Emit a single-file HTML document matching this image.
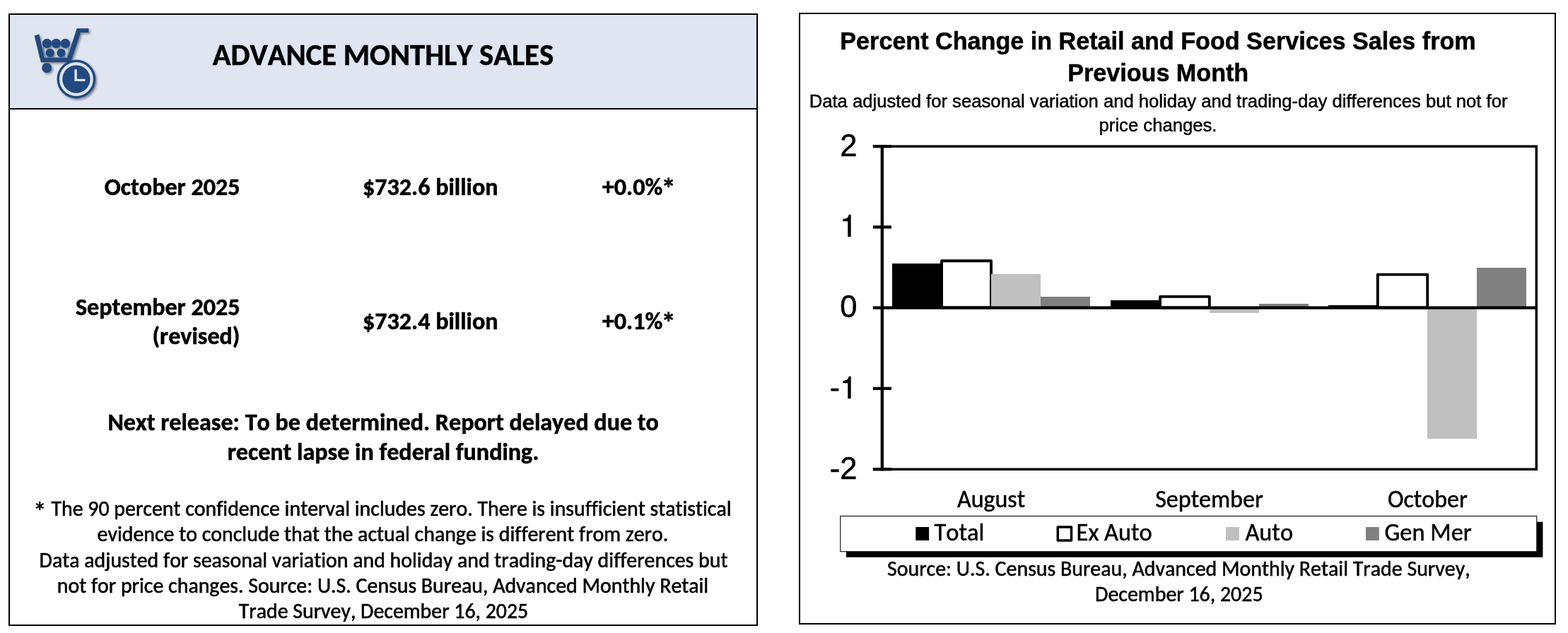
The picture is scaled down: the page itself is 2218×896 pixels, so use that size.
<!DOCTYPE html>
<html lang="en">
<head>
<meta charset="utf-8">
<title>Advance Monthly Sales</title>
<style>
html,body{margin:0;padding:0;background:#fff;}
body{position:relative;width:2218px;height:896px;overflow:hidden;color:#000;
  font-family:"Carlito","Calibri","Liberation Sans",sans-serif;font-kerning:none;font-variant-ligatures:none;}
.panel{position:absolute;box-sizing:border-box;border:2px solid #000;background:#fff;}
#sales{left:12px;top:19px;width:1059.5px;height:867px;}
#sales .head{position:absolute;left:0;top:0;right:0;height:131.5px;background:#dfe5f1;border-bottom:2px solid #000;}
#chart{left:1130px;top:17.5px;width:1071px;height:866px;}
.t{position:absolute;white-space:nowrap;line-height:1;margin:0;transform-origin:50% 84%;-webkit-text-stroke:0.55px #000;}
.ast{display:inline-block;line-height:0;position:relative;}
.b .ast{font-size:1.2em;top:0.12em;margin-left:-0.045em;}
.f30 .ast{font-size:1.28em;top:0.21em;margin-left:-0.07em;}
.c{transform:translateX(-50%);}
.l{transform-origin:0 84%;}
.r{transform:translateX(-100%);transform-origin:100% 84%;}
.b{font-weight:bold;}
.h1{font-size:42.7px;}
.f34{font-size:34.1px;}
.f30{font-size:29.85px;}
svg{position:absolute;left:0;top:0;overflow:visible;}
svg text{font-family:"Carlito","Calibri","Liberation Sans",sans-serif;fill:#000;stroke:#000;stroke-width:0.5px;font-kerning:none;font-variant-ligatures:none;}
svg text.a{font-family:"Liberation Sans","Arial",sans-serif;}
svg text.h{font-family:"TeX Gyre Heros","Liberation Sans","Arial",sans-serif;}
</style>
</head>
<body>

<!-- ================= LEFT PANEL ================= -->
<div class="panel" id="sales">
  <div class="head"></div>
</div>

<!-- icon: shopping cart with clock (page coordinates) -->
<svg width="2218" height="896" viewBox="0 0 2218 896" style="pointer-events:none">
  <defs>
    <filter id="bl"><feGaussianBlur stdDeviation="0.4"/></filter>
    <filter id="sh" x="-20%" y="-20%" width="150%" height="150%">
      <feGaussianBlur in="SourceGraphic" stdDeviation="0.45" result="b"/><feDropShadow in="b" dx="2" dy="2.2" stdDeviation="1.7" flood-color="#000" flood-opacity="0.4"/>
    </filter>
  </defs>
  <g filter="url(#sh)" fill="#24487f" stroke="none">
    <!-- cart frame -->
    <path d="M108.6 40.2 H125.4 V45.9 H114.2 L100.3 88 H57.8 L48.6 50.6 L55.4 48.6 L63 82 H95.2 Z"/>
    <!-- inner basket -->
    <path d="M60.9 66.5 L64.4 81.2 H94.9 L98.1 67.6" fill="none" stroke="#24487f" stroke-width="1.1" stroke-opacity="0.7"/>
    <!-- wheel -->
    <circle cx="66.2" cy="96" r="7"/>
    <!-- goods -->
    <circle cx="66.4" cy="61.4" r="6.7"/>
    <circle cx="79.4" cy="61.4" r="6.7"/>
    <circle cx="92.4" cy="61.4" r="6.7"/>
    <circle cx="70.7" cy="74.9" r="6.1"/>
    <circle cx="86.4" cy="74.9" r="6.1"/>
    <!-- clock -->
    <circle cx="107.9" cy="112" r="25.6" fill="#dfe5f1"/>
    <circle cx="107.9" cy="112" r="25.65" fill="none" stroke="#24487f" stroke-width="3.5"/>
    <circle cx="107.9" cy="112" r="19.7"/>
  </g>
  <path d="M107.1 98.2 V113.4 H120.6" fill="none" stroke="#dfe5f1" stroke-width="3.5" filter="url(#bl)"/>
</svg>

<div class="t c b h1" style="left:541.9px;top:56px;--w:482.4">ADVANCE MONTHLY SALES</div>

<div class="t r b f34" style="left:339.5px;top:248px;--w:191.8">October 2025</div>
<div class="t l b f34" style="left:513px;top:248px;--w:191.55">$732.6 billion</div>
<div class="t l b f34" style="left:851.8px;top:248px;--w:105.85">+0.0%<span class="ast">*</span></div>

<div class="t r b f34" style="left:339.5px;top:418px;--w:232.6">September 2025</div>
<div class="t r b f34" style="left:339.5px;top:458.8px;--w:124.05">(revised)</div>
<div class="t l b f34" style="left:513px;top:438px;--w:191.55">$732.4 billion</div>
<div class="t l b f34" style="left:851.8px;top:438px;--w:105.85">+0.1%<span class="ast">*</span></div>

<div class="t c b f34" style="left:542.2px;top:581px;--w:779.5">Next release: To be determined. Report delayed due to</div>
<div class="t c b f34" style="left:542px;top:622.8px;--w:440.75">recent lapse in federal funding.</div>

<div class="t c f30" style="left:542px;top:706px;--w:985.1"><span class="ast">*</span> The 90 percent confidence interval includes zero. There is insufficient statistical</div>
<div class="t c f30" style="left:541.4px;top:742.3px;--w:807.6">evidence to conclude that the actual change is different from zero.</div>
<div class="t c f30" style="left:542.5px;top:778.6px;--w:973.8">Data adjusted for seasonal variation and holiday and trading-day differences but</div>
<div class="t c f30" style="left:541.5px;top:814.9px;--w:921.45">not for price changes. Source: U.S. Census Bureau, Advanced Monthly Retail</div>
<div class="t c f30" style="left:542.5px;top:851.2px;--w:409.5">Trade Survey, December 16, 2025</div>

<!-- ================= RIGHT PANEL ================= -->
<div class="panel" id="chart"></div>

<svg width="2218" height="896" viewBox="0 0 2218 896">
  <!-- titles -->
  <text class="a" x="1638" y="69.5" font-size="34.15" font-weight="bold" text-anchor="middle">Percent Change in Retail and Food Services Sales from</text>
  <text class="a" x="1638.2" y="114.5" font-size="34.15" font-weight="bold" text-anchor="middle">Previous Month</text>
  <text class="a" x="1638.6" y="151.8" font-size="25.65" text-anchor="middle">Data adjusted for seasonal variation and holiday and trading-day differences but not for</text>
  <text class="a" x="1638" y="185.8" font-size="25.65" text-anchor="middle">price changes.</text>

  <!-- bars (series order: Total, Ex Auto, Auto, Gen Mer) -->
  <g shape-rendering="crispEdges" fill="#000">
    <rect x="1262" y="372.5" width="70" height="63"/>
    <rect x="1570.5" y="424.5" width="70" height="11"/>
    <rect x="1879" y="432" width="70" height="3.5"/>
  </g>
  <g fill="#fff" stroke="#000" stroke-width="3.9" stroke-linejoin="round">
    <rect x="1332" y="369.3" width="70" height="66.2"/>
    <rect x="1641" y="419.9" width="69.8" height="15.6"/>
    <rect x="1948.8" y="388.6" width="70.4" height="46.9"/>
  </g>
  <g shape-rendering="crispEdges" fill="#c0c0c0">
    <rect x="1402" y="388" width="70" height="47.5"/>
    <rect x="1711" y="435.5" width="70" height="7"/>
    <rect x="2019" y="435.5" width="70" height="185.1"/>
  </g>
  <g shape-rendering="crispEdges" fill="#808080">
    <rect x="1472" y="420" width="70" height="15.5"/>
    <rect x="1781" y="430" width="70" height="5.5"/>
    <rect x="2089.3" y="378.5" width="70" height="57"/>
  </g>

  <!-- plot frame, axis, ticks -->
  <rect x="1247.8" y="207.2" width="925.5" height="457.05" fill="none" stroke="#000" stroke-width="3.5"/>
  <g stroke="#000" stroke-width="4.3" fill="none">
    <line x1="1247.8" y1="205.1" x2="1247.8" y2="666.4"/>
    <line x1="1234.8" y1="207.2" x2="1261" y2="207.2"/>
    <line x1="1234.8" y1="321.4" x2="1261" y2="321.4"/>
    <line x1="1234.8" y1="435.6" x2="2175" y2="435.6"/>
    <line x1="1234.8" y1="549.9" x2="1261" y2="549.9"/>
    <line x1="1234.8" y1="664.25" x2="1261" y2="664.25"/>
  </g>

  <!-- y labels -->
  <g class="a" font-size="43.6" text-anchor="end">
    <text class="a" x="1212.4" y="221">2</text>
    <text class="a h" x="1212.4" y="335.2">1</text>
    <text class="a" x="1212.4" y="449.4">0</text>
    <text class="a h" x="1212.4" y="563.7">-1</text>
    <text class="a" x="1212.4" y="678">-2</text>
  </g>

  <!-- x labels -->
  <g font-size="34" text-anchor="middle">
    <text style="--w:96.1" x="1402" y="717.8">August</text>
    <text style="--w:152.5" x="1710.5" y="717.8">September</text>
    <text style="--w:112.85" x="2019.4" y="717.8">October</text>
  </g>

  <!-- legend -->
  <rect x="1197" y="738.6" width="985.4" height="50.2" fill="#000"/>
  <rect x="1188.75" y="730.5" width="985" height="50.2" fill="#fff" stroke="#1a1a1a" stroke-width="1.2"/>
  <rect x="1295.3" y="746" width="18.8" height="19" fill="#000"/>
  <rect x="1496.3" y="745.9" width="19.2" height="19.2" fill="#fff" stroke="#000" stroke-width="3.5" stroke-linejoin="round"/>
  <rect x="1734" y="746" width="18.8" height="19" fill="#c0c0c0"/>
  <rect x="1932" y="746" width="18.8" height="19" fill="#808080"/>
  <g font-size="34.4">
    <text style="--w:70.8" x="1321.6" y="765">Total</text>
    <text style="--w:107.1" x="1522.6" y="765">Ex Auto</text>
    <text style="--w:67.6" x="1761.4" y="765">Auto</text>
    <text style="--w:123.15" x="1958.6" y="765">Gen Mer</text>
  </g>

  <!-- source -->
  <g font-size="29.9" text-anchor="middle">
    <text style="--w:824.65" x="1667.3" y="814.9">Source: U.S. Census Bureau, Advanced Monthly Retail Trade Survey,</text>
    <text style="--w:237.55" x="1667.8" y="851.1">December 16, 2025</text>
  </g>
</svg>

<script>
/* Fallback only: if the preferred face is unavailable, fit each text line to its designed width. */
(function(){
  function num(e){return parseFloat(getComputedStyle(e).getPropertyValue('--w'));}
  var i,e,w,n,k,els=document.querySelectorAll('.t');
  for(i=0;i<els.length;i++){e=els[i];w=num(e);if(!w)continue;n=e.offsetWidth;k=w/n;
    if(Math.abs(k-1)>0.025){var t=getComputedStyle(e).transform;e.style.transform=(t&&t!=='none'?t+' ':'')+'scale('+k.toFixed(4)+')';}}
  els=document.querySelectorAll('svg text');
  for(i=0;i<els.length;i++){e=els[i];w=num(e);if(!w)continue;n=e.getComputedTextLength();k=w/n;
    if(Math.abs(k-1)>0.025){var x=e.getAttribute('x'),y=e.getAttribute('y');
      e.setAttribute('transform','translate('+x+' '+y+') scale('+k.toFixed(4)+') translate(-'+x+' -'+y+')');}}
})();
</script>

</body>
</html>
